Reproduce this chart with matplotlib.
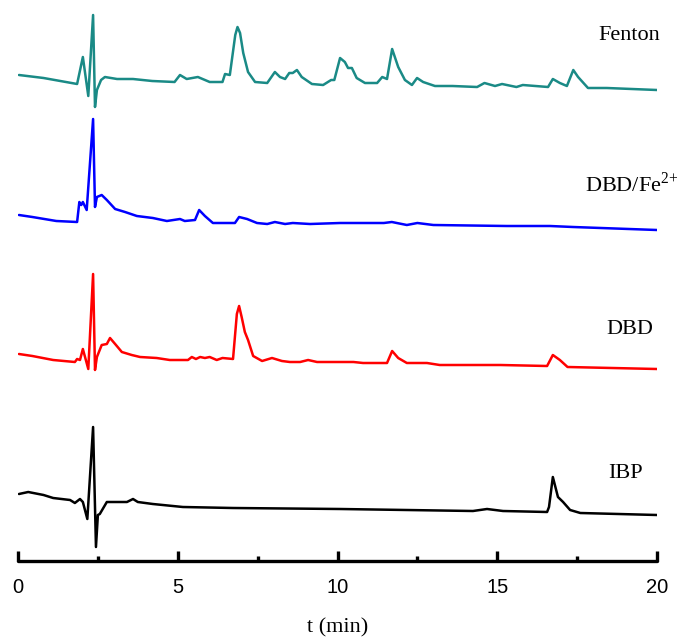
import matplotlib
matplotlib.use("Agg")
import matplotlib.pyplot as plt
from matplotlib.ticker import MultipleLocator
import numpy as np

plt.rcParams["mathtext.fontset"] = "custom"
plt.rcParams["mathtext.rm"] = "Liberation Serif"

# Retention time (min) and detector signal (arbitrary units, baseline-relative)
t_fenton = [0.03, 0.8, 1.85, 2.03, 2.2, 2.35, 2.41, 2.47, 2.6, 2.72, 3.1, 3.6, 4.2, 4.9, 5.07, 5.28,
            5.63, 6.0, 6.4, 6.48, 6.63, 6.8, 6.87, 6.95, 7.05, 7.2, 7.42, 7.8, 8.04, 8.2, 8.36, 8.49,
            8.6, 8.73, 8.88, 9.2, 9.55, 9.8, 9.9, 10.08, 10.23, 10.33, 10.45, 10.6, 10.86, 11.24,
            11.4, 11.55, 11.71, 11.9, 12.11, 12.33, 12.49, 12.68, 13.05, 13.6, 14.37, 14.6, 14.93,
            15.15, 15.6, 15.8, 16.59, 16.74, 16.96, 17.18, 17.38, 17.53, 17.84, 18.43, 20.0]
s_fenton = [15, 12, 6, 33, -6, 75, -17, 0, 10, 13, 11, 11, 9, 8, 15, 11, 13, 8, 8, 16, 15, 55, 63,
            57, 37, 18, 8, 7, 18, 13, 11, 17, 17, 20, 13, 6, 5, 10, 10, 32, 28, 22, 22, 12, 7, 7,
            13, 11, 41, 23, 10, 5, 12, 8, 4, 4, 3, 7, 4, 6, 3, 5, 3, 11, 7, 4, 20, 13, 2, 2, 0]

t_dbdfe = [0.03, 0.45, 1.2, 1.85, 1.92, 1.98, 2.03, 2.15, 2.35, 2.41, 2.47, 2.62, 2.78, 3.04, 3.35,
           3.72, 4.22, 4.66, 5.07, 5.22, 5.54, 5.67, 5.85, 6.1, 6.79, 6.92, 7.17, 7.48, 7.8, 8.04,
           8.36, 8.6, 9.14, 10.08, 10.5, 11.45, 11.7, 12.17, 12.5, 13.0, 15.3, 16.65, 17.37, 20.0]
s_dbdfe = [15, 13, 9, 8, 28, 25, 28, 20, 111, 23, 33, 35, 30, 21, 18, 14, 12, 9, 11, 9, 10, 20, 14,
           7, 7, 13, 11, 7, 6, 8, 6, 7, 6, 7, 7, 7, 8, 5, 7, 5, 4, 4, 3, 0]

t_dbd = [0.03, 0.45, 1.1, 1.78, 1.85, 1.94, 2.03, 2.2, 2.35, 2.41, 2.47, 2.62, 2.78, 2.88, 3.04,
         3.25, 3.56, 3.82, 4.34, 4.75, 5.32, 5.44, 5.57, 5.7, 5.85, 6.0, 6.22, 6.4, 6.73, 6.85,
         6.92, 7.0, 7.1, 7.2, 7.36, 7.64, 7.95, 8.26, 8.51, 8.83, 9.08, 9.36, 10.08, 10.5, 10.8,
         11.55, 11.71, 11.9, 12.17, 12.8, 13.2, 15.1, 16.56, 16.74, 16.96, 17.2, 20.0]
s_dbd = [15, 13, 9, 7, 10, 9, 20, 0, 95, -1, 12, 24, 25, 31, 25, 17, 14, 12, 11, 9, 9, 12, 10, 12,
         11, 12, 9, 11, 10, 55, 63, 52, 37, 29, 13, 8, 11, 8, 7, 7, 9, 7, 7, 7, 6, 6, 18, 11, 6,
         6, 4, 4, 3, 14, 9, 2, 0]

t_ibp = [0.03, 0.32, 0.8, 1.1, 1.63, 1.78, 1.94, 2.03, 2.17, 2.35, 2.44, 2.5, 2.56, 2.78, 3.41,
         3.6, 3.75, 4.22, 5.16, 6.73, 10.08, 14.24, 14.68, 15.18, 16.56, 16.62, 16.74, 16.9, 17.06,
         17.28, 17.6, 20.0]
s_ibp = [21, 23, 20, 17, 15, 12, 16, 13, -4, 88, -32, 0, 1, 13, 13, 16, 13, 11, 8, 7, 6, 4, 6, 4,
         3, 8, 38, 18, 13, 5, 2, 0]

names = ["Fenton", "DBD/Fe$^{2{+}}$", "DBD", "IBP"]
offsets = [471, 331, 192, 46]
colors = ["#1a8a86", "#0000ff", "#ff0000", "#000000"]
label_pos = [(18.15, 526), (17.75, 377), (18.43, 231), (18.47, 87)]

traces = [(t_fenton, s_fenton), (t_dbdfe, s_dbdfe), (t_dbd, s_dbd), (t_ibp, s_ibp)]

fig = plt.figure(figsize=(6.8, 6.39), dpi=100)
ax = fig.add_axes([18 / 680, 78 / 639, 639 / 680, 561 / 639])

for (t, s), off, c, name, (lx, ly) in zip(traces, offsets, colors, names, label_pos):
    ax.plot(t, np.array(s) + off, color=c, lw=1.8, solid_joinstyle="round",
            solid_capstyle="round")
    ax.text(lx, ly, name, fontsize=16, family="Liberation Serif", ha="left", va="center",
            clip_on=False)

ax.set_xlim(0, 20)
ax.set_ylim(0, 561)
for sp in ["top", "left", "right"]:
    ax.spines[sp].set_visible(False)
ax.spines["bottom"].set_linewidth(2.4)
ax.spines["bottom"].set_capstyle("round")
ax.set_yticks([])
ax.xaxis.set_major_locator(MultipleLocator(5))
ax.xaxis.set_minor_locator(MultipleLocator(2.5))
ax.tick_params(axis="x", which="major", direction="in", length=7, width=2.4, pad=12,
               labelsize=14.5)
ax.tick_params(axis="x", which="minor", direction="in", length=3.5, width=2.4)
for lab in ax.get_xticklabels():
    lab.set_family("Liberation Sans")

fig.text(338 / 680, 1 - 628 / 639, "t (min)", fontsize=16, family="Liberation Serif",
         ha="center", va="center")

fig.savefig("out.png", dpi=100)
